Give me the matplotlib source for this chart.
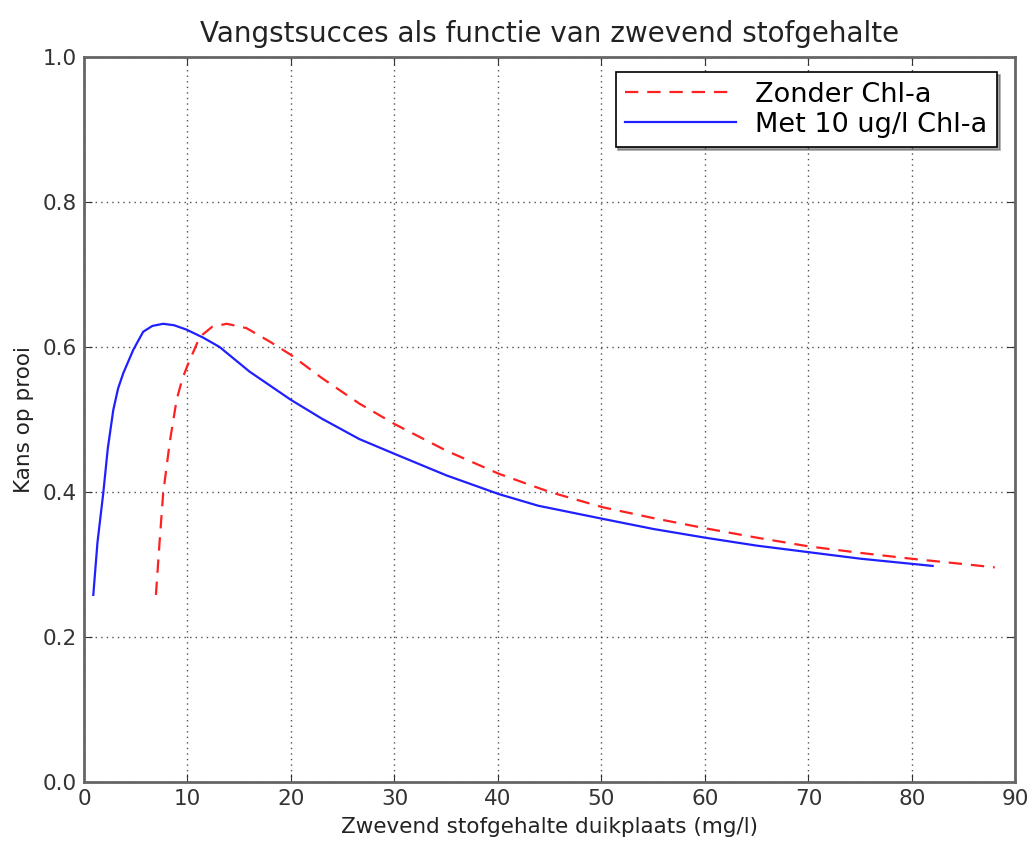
import matplotlib
matplotlib.use("Agg")
import matplotlib.pyplot as plt

# waarden
x_zonder = [6.95, 7.3, 7.65, 8.3, 8.95, 9.5, 10.07, 11.2, 12.4, 13.8, 15.7, 18.0, 20.0, 23.0,
            26.6, 30.1, 35.0, 40.1, 45.0, 50.1, 55.0, 60.0, 65.0, 70.0, 75.0, 79.9, 84.0, 88.0]
y_zonder = [0.258, 0.33, 0.398, 0.47, 0.527, 0.556, 0.577, 0.614, 0.628, 0.632, 0.626, 0.607,
            0.589, 0.557, 0.522, 0.493, 0.457, 0.425, 0.400, 0.379, 0.364, 0.350, 0.337,
            0.325, 0.316, 0.308, 0.302, 0.296]

x_met = [0.9, 1.3, 1.86, 2.3, 2.83, 3.3, 3.8, 4.76, 5.72, 6.6, 7.65, 8.7, 9.9, 11.5, 13.1,
         16.0, 20.0, 23.0, 26.6, 30.1, 35.0, 40.1, 43.9, 50.1, 55.0, 60.0, 65.0, 70.0,
         75.0, 79.9, 82.0]
y_met = [0.258, 0.33, 0.398, 0.46, 0.513, 0.543, 0.564, 0.596, 0.621, 0.629, 0.632, 0.630,
         0.624, 0.613, 0.600, 0.566, 0.527, 0.501, 0.473, 0.452, 0.423, 0.397, 0.381,
         0.363, 0.349, 0.337, 0.326, 0.317, 0.308, 0.301, 0.298]

fig = plt.figure(figsize=(10.33, 8.43), dpi=100)
ax = fig.add_axes([0.0813, 0.0724, 0.9017, 0.8600])

ax.plot(x_zonder, y_zonder, color="#ff2020", linestyle="--", dashes=(6, 4), lw=1.6,
        label="Zonder Chl-a")
ax.plot(x_met, y_met, color="#2020ff", lw=1.6, label="Met 10 ug/l Chl-a")

ax.set_xlim(0, 90)
ax.set_ylim(0, 1.0)
ax.set_xticks(range(0, 91, 10))
ax.set_yticks([0.0, 0.2, 0.4, 0.6, 0.8, 1.0])
ax.set_yticklabels(["0.0", "0.2", "0.4", "0.6", "0.8", "1.0"])
ax.grid(True, color="#333333", linestyle=(0, (1, 3)), linewidth=1.0, alpha=0.85)
ax.tick_params(direction="in", length=6, top=True, right=True, labelsize=15.5,
               colors="#333333", pad=5)
for s in ax.spines.values():
    s.set_color("#666666")
    s.set_linewidth(2)

ax.set_title("Vangstsucces als functie van zwevend stofgehalte", fontsize=20,
             color="#222222", pad=11)
ax.set_xlabel("Zwevend stofgehalte duikplaats (mg/l)", fontsize=15.5, color="#222222",
              labelpad=6)
ax.set_ylabel("Kans op prooi", fontsize=15.5, color="#222222", labelpad=6)

leg = ax.legend(loc="upper right", fontsize=19.5, fancybox=False, shadow=True,
                handlelength=4.1, handletextpad=0.7, borderpad=0.35, labelspacing=0.15,
                borderaxespad=0, bbox_to_anchor=(0.980, 0.979))
leg.get_frame().set_edgecolor("black")
leg.get_frame().set_linewidth(1.2)

fig.savefig("out.png", dpi=100)
